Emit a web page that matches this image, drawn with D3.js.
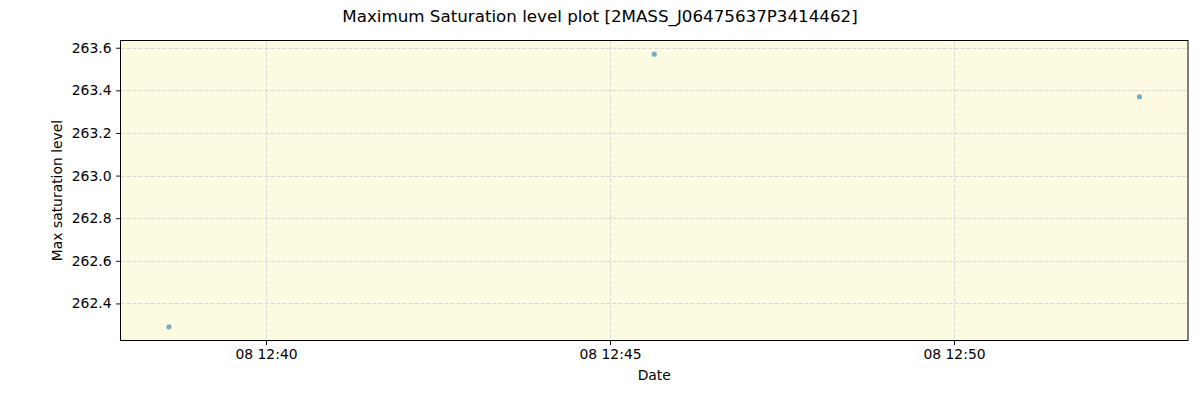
<!DOCTYPE html>
<html>
<head>
<meta charset="utf-8">
<script src="https://cdn.jsdelivr.net/npm/d3@7"></script>
<style>
  body { margin: 0; background: #fff; }
  svg text { font-family: "DejaVu Sans", sans-serif; }
</style>
</head>
<body>
<script>
// data
var titleText = "Maximum Saturation level plot [2MASS_J06475637P3414462]";
var times = ["2024-01-08T12:38:35", "2024-01-08T12:45:38", "2024-01-08T12:52:41"];
var levels = [262.29, 263.57, 263.37];
var yTicks = [262.4, 262.6, 262.8, 263.0, 263.2, 263.4, 263.6];
var xTicks = ["2024-01-08T12:40:00", "2024-01-08T12:45:00", "2024-01-08T12:50:00"];

var W = 1200, H = 400;
var m = { left: 120.5, top: 40.5, right: 1188, bottom: 340.5 };

var parse = d3.isoParse;
var tData = times.map(parse);

// matplotlib style 5% margins
var tMin = d3.min(tData), tMax = d3.max(tData);
var pad = (tMax - tMin) * 0.05;
var x = d3.scaleTime()
  .domain([new Date(+tMin - pad), new Date(+tMax + pad)])
  .range([m.left, m.right]);

var yMin = d3.min(levels), yMax = d3.max(levels);
var ypad = (yMax - yMin) * 0.05;
var y = d3.scaleLinear()
  .domain([yMin - ypad, yMax + ypad])
  .range([m.bottom, m.top]);

var svg = d3.select("body").append("svg")
  .attr("width", W)
  .attr("height", H);

//plot background
svg.append("rect")
  .attr("x", m.left).attr("y", m.top)
  .attr("width", m.right - m.left).attr("height", m.bottom - m.top)
  .style("fill", "#fcfbe2");

//grid lines
svg.append("g").selectAll("line").data(yTicks).enter().append("line")
  .attr("x1", m.left).attr("x2", m.right)
  .attr("y1", function (d) { return Math.round(y(d)) + 0.5; })
  .attr("y2", function (d) { return Math.round(y(d)) + 0.5; })
  .style("stroke", "#cfcfd6").style("stroke-width", 0.8)
  .style("stroke-dasharray", "4,2");

svg.append("g").selectAll("line").data(xTicks.map(parse)).enter().append("line")
  .attr("y1", m.top).attr("y2", m.bottom)
  .attr("x1", function (d) { return Math.floor(x(d)) + 0.5; })
  .attr("x2", function (d) { return Math.floor(x(d)) + 0.5; })
  .style("stroke", "#cfcfd6").style("stroke-width", 0.8)
  .style("stroke-dasharray", "4,2");

//points
svg.append("g").selectAll("circle").data(levels).enter().append("circle")
  .attr("cx", function (d, i) { return x(tData[i]); })
  .attr("cy", function (d) { return y(d); })
  .attr("r", 2.6)
  .style("fill", "#1f77b4")
  .style("opacity", 0.6);

//axes
var fmt = d3.timeFormat("%d %H:%M");
var xAxis = d3.axisBottom(x)
  .tickValues(xTicks.map(parse))
  .tickFormat(fmt)
  .tickSize(4.5).tickPadding(4.5);
var yAxis = d3.axisLeft(y)
  .tickValues(yTicks)
  .tickFormat(d3.format(".1f"))
  .tickSize(4.5).tickPadding(4.5);

var gx = svg.append("g").attr("transform", "translate(0," + m.bottom + ")").call(xAxis);
var gy = svg.append("g").attr("transform", "translate(" + m.left + ",0)").call(yAxis);
[gx, gy].forEach(function (g) {
  g.select(".domain").remove();
  g.selectAll("text").style("font-size", "13.9px").style("fill", "#000");
  g.selectAll("line").style("stroke", "#000").style("stroke-width", 0.9);
});
gx.selectAll(".tick").attr("transform", function (d) { return "translate(" + (Math.floor(x(d)) + 0.5) + ",0)"; });

//frame
svg.append("rect")
  .attr("x", m.left).attr("y", m.top)
  .attr("width", m.right - m.left).attr("height", m.bottom - m.top)
  .style("fill", "none").style("stroke", "#000").style("stroke-width", 1);

//labels
svg.append("text")
  .attr("x", 600).attr("y", 22)
  .attr("text-anchor", "middle")
  .style("font-size", "16.7px")
  .text(titleText);

svg.append("text")
  .attr("x", (m.left + m.right) / 2).attr("y", 380)
  .attr("text-anchor", "middle")
  .style("font-size", "13.9px")
  .text("Date");

svg.append("text")
  .attr("transform", "translate(62," + (m.top + m.bottom) / 2 + ") rotate(-90)")
  .attr("text-anchor", "middle")
  .style("font-size", "13.9px")
  .text("Max saturation level");
</script>
</body>
</html>
